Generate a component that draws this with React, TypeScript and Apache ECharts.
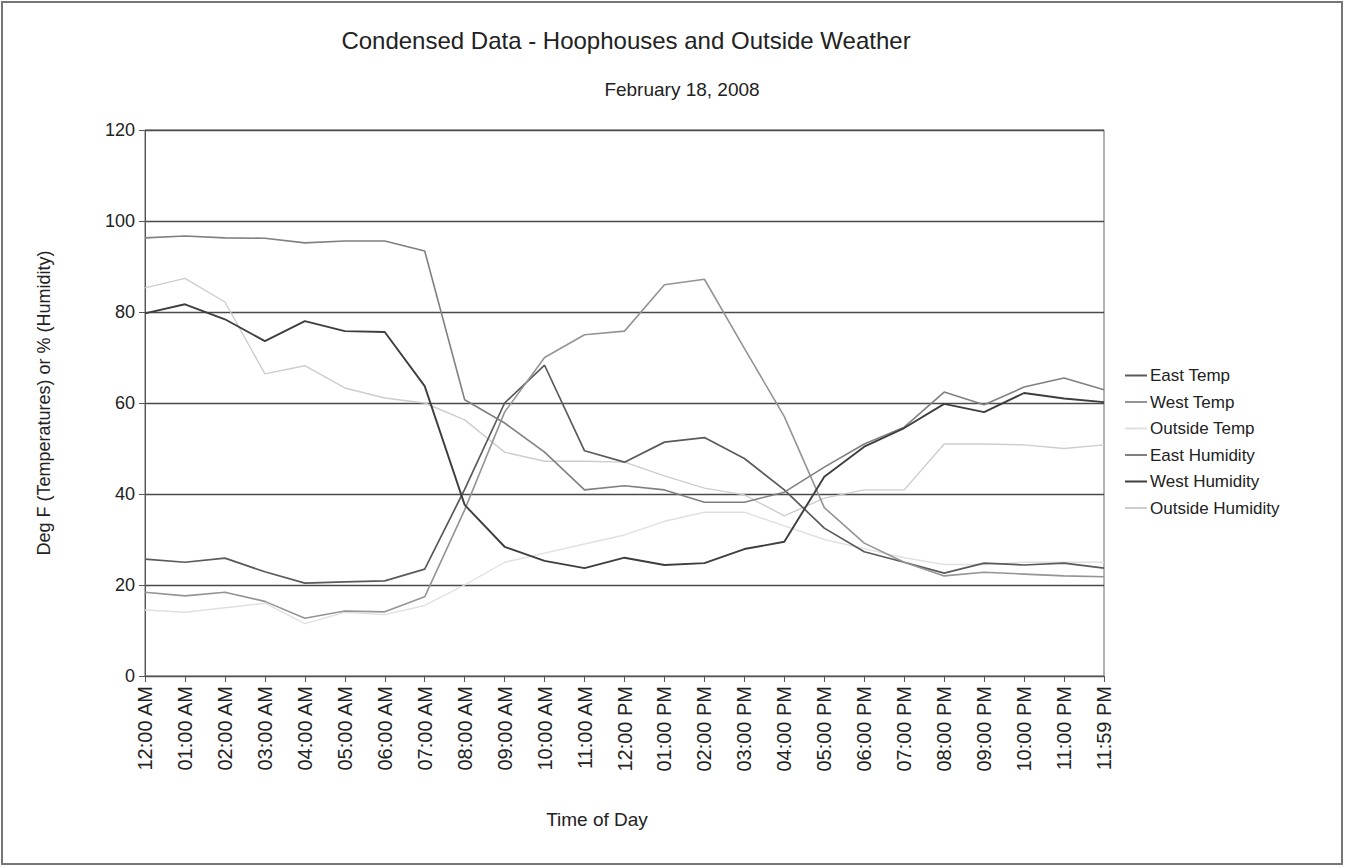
import { useEffect, useRef } from 'react';
import * as echarts from 'echarts';

const categories = [
  '12:00 AM', '01:00 AM', '02:00 AM', '03:00 AM', '04:00 AM', '05:00 AM', '06:00 AM', '07:00 AM',
  '08:00 AM', '09:00 AM', '10:00 AM', '11:00 AM', '12:00 PM', '01:00 PM', '02:00 PM', '03:00 PM',
  '04:00 PM', '05:00 PM', '06:00 PM', '07:00 PM', '08:00 PM', '09:00 PM', '10:00 PM', '11:00 PM', '11:59 PM',
];

const eastTemp = [25.7, 25.0, 25.9, 22.9, 20.4, 20.7, 20.9, 23.5, 41, 60, 68.3, 49.5, 47, 51.4, 52.4, 47.8, 40.9, 32.5, 27.3, 25, 22.6, 24.8, 24.4, 24.8, 23.7];
const westTemp = [18.4, 17.6, 18.4, 16.4, 12.7, 14.3, 14.1, 17.4, 36.5, 58, 70, 75, 75.8, 86, 87.2, 72, 57, 37, 29.2, 25, 22, 22.8, 22.4, 22, 21.8];
const outsideTemp = [14.5, 14, 15, 16, 11.5, 14, 13.5, 15.5, 20, 25, 27, 29, 31, 34, 36, 36, 33, 30, 28, 26, 24.5, 24.5, 25, 25, 25];
const eastHumidity = [96.3, 96.7, 96.3, 96.2, 95.2, 95.6, 95.6, 93.4, 60.7, 55.6, 49.2, 40.9, 41.8, 40.9, 38.2, 38.2, 40.4, 45.9, 51, 54.7, 62.4, 59.6, 63.5, 65.5, 62.9];
const westHumidity = [79.7, 81.7, 78.4, 73.6, 78, 75.8, 75.6, 63.7, 37.6, 28.4, 25.3, 23.7, 26, 24.4, 24.8, 27.9, 29.5, 43.8, 50.4, 54.5, 59.8, 58, 62.2, 61, 60.2];
const outsideHumidity = [85.3, 87.4, 82.2, 66.4, 68.2, 63.3, 61.1, 60, 56.3, 49.2, 47.2, 47.2, 47, 44, 41.3, 39.8, 35.2, 39.1, 40.9, 40.9, 51, 51, 50.8, 50, 50.8];

const seriesNames = ['East Temp', 'West Temp', 'Outside Temp', 'East Humidity', 'West Humidity', 'Outside Humidity'];
const seriesData = [eastTemp, westTemp, outsideTemp, eastHumidity, westHumidity, outsideHumidity];
const seriesColors = ['#5a5a5a', '#949494', '#e0e0e0', '#808080', '#3e3e3e', '#cdcdcd'];
const seriesWidths = [1.7, 1.6, 1.4, 1.6, 1.9, 1.4];

const FONT = "'Liberation Sans', Arial, sans-serif";

export default function App() {
  const ref = useRef<HTMLDivElement>(null);

  useEffect(() => {
    const chart = echarts.init(ref.current!, null, { renderer: 'svg' });
    chart.setOption({
      animation: false,
      backgroundColor: '#ffffff',
      textStyle: { fontFamily: FONT, color: '#222' },
      title: [
        {
          text: 'Condensed Data - Hoophouses and Outside Weather',
          left: 621,
          top: 23,
          textAlign: 'center',
          textStyle: { fontFamily: FONT, fontSize: 24, fontWeight: 'normal', color: '#222' },
        },
        {
          text: 'February 18, 2008',
          left: 677,
          top: 75,
          textAlign: 'center',
          textStyle: { fontFamily: FONT, fontSize: 19, fontWeight: 'normal', color: '#222' },
        },
      ],
      graphic: [
        {
          type: 'rect',
          shape: { x: 2, y: 2, width: 1340, height: 862 },
          style: { fill: 'none', stroke: '#777', lineWidth: 2 },
          silent: true,
        },
      ],
      legend: {
        orient: 'vertical',
        left: 1120,
        top: 362,
        itemWidth: 22,
        itemHeight: 2,
        itemGap: 9.5,
        icon: 'rect',
        data: seriesNames.map((n, i) => ({
          name: n,
          itemStyle: { color: seriesColors[i] },
        })),
        textStyle: { fontFamily: FONT, fontSize: 17, color: '#222', padding: [0, 0, 0, -2] },
      },
      grid: { left: 145, right: 241, top: 130, bottom: 191, show: true, borderColor: '#666', borderWidth: 1, backgroundColor: 'transparent' },
      xAxis: {
        type: 'category',
        data: categories,
        boundaryGap: false,
        name: 'Time of Day',
        nameLocation: 'middle',
        nameGap: 134,
        nameTextStyle: { fontFamily: FONT, fontSize: 19, color: '#222', padding: [0, 55, 0, 0] },
        axisLine: { show: true, lineStyle: { color: '#555', width: 1 } },
        axisTick: { show: true, inside: false, length: 6, alignWithLabel: true, lineStyle: { color: '#555' } },
        axisLabel: { rotate: 90, fontFamily: FONT, fontSize: 20, color: '#222', margin: 10, interval: 0 },
        splitLine: { show: false },
      },
      yAxis: {
        type: 'value',
        min: 0,
        max: 120,
        interval: 20,
        name: 'Deg F (Temperatures) or % (Humidity)',
        nameLocation: 'middle',
        nameGap: 92,
        nameTextStyle: { fontFamily: FONT, fontSize: 18, color: '#222' },
        axisLine: { show: true, lineStyle: { color: '#555', width: 1 } },
        axisTick: { show: true, inside: false, length: 6, lineStyle: { color: '#555' } },
        axisLabel: { fontFamily: FONT, fontSize: 18, color: '#222', margin: 10 },
        splitLine: { show: true, lineStyle: { color: '#4a4a4a', width: 1.3 } },
      },
      series: seriesNames.map((n, i) => ({
        name: n,
        type: 'line',
        data: seriesData[i],
        symbol: 'none',
        showSymbol: false,
        lineStyle: { color: seriesColors[i], width: seriesWidths[i] },
        itemStyle: { color: seriesColors[i] },
        z: [2, 2, 1, 2, 3, 1][i],
      })),
    });
    return () => chart.dispose();
  }, []);

  return (
    <div
      ref={ref}
      style={{ position: 'fixed', left: 0, top: 0, width: 1345, height: 867, background: '#fff' }}
    />
  );
}
